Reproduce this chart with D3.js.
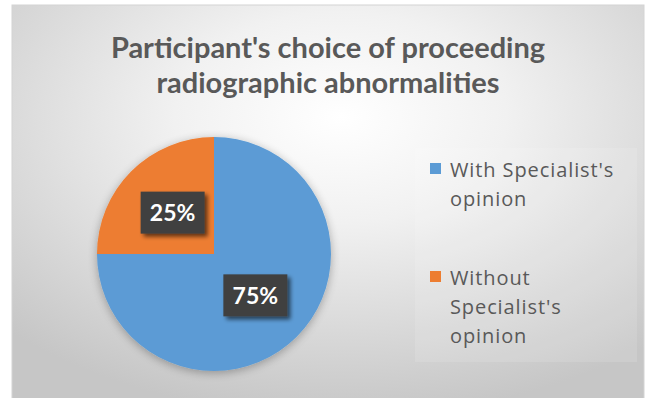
<!DOCTYPE html>
<html>
<head>
<meta charset="utf-8">
<script src="https://cdn.jsdelivr.net/npm/d3@7"></script>
<style>
  html, body { margin: 0; padding: 0; background: #ffffff; }
  svg { display: block; }
</style>
</head>
<body>
<div id="chart"></div>
<script>
// chart data
var titleLines = ["Participant's choice of proceeding", "radiographic abnormalities"];
var categories = ["With Specialist's opinion", "Without Specialist's opinion"];
var legendLines = [["With Specialist's", "opinion"], ["Without", "Specialist's", "opinion"]];
var values = [75, 25];
var colors = ["#5b9bd5", "#ed7d31"];

const width = 651, height = 398;
const center = { x: 214, y: 254 };
const radius = 117;

var svg = d3.select("#chart").append("svg")
    .attr("width", width)
    .attr("height", height);

var defs = svg.append("defs");

var grad = defs.append("radialGradient")
    .attr("id", "bg")
    .attr("cx", "52%").attr("cy", "28%")
    .attr("r", "75%");
grad.append("stop").attr("offset", "0%").attr("stop-color", "#ffffff");
grad.append("stop").attr("offset", "35%").attr("stop-color", "#f1f1f1");
grad.append("stop").attr("offset", "100%").attr("stop-color", "#c6c6c6");

var pieShadow = defs.append("filter").attr("id", "pieShadow")
    .attr("x", "-20%").attr("y", "-20%").attr("width", "140%").attr("height", "140%");
pieShadow.append("feGaussianBlur").attr("in", "SourceAlpha").attr("stdDeviation", 5).attr("result", "b");
pieShadow.append("feOffset").attr("in", "b").attr("dx", 0).attr("dy", 2).attr("result", "o");
pieShadow.append("feComponentTransfer").attr("in", "o").attr("result", "s")
    .append("feFuncA").attr("type", "linear").attr("slope", 0.3);
var m1 = pieShadow.append("feMerge");
m1.append("feMergeNode").attr("in", "s");
m1.append("feMergeNode").attr("in", "SourceGraphic");

var boxShadow = defs.append("filter").attr("id", "boxShadow")
    .attr("x", "-30%").attr("y", "-30%").attr("width", "160%").attr("height", "160%");
boxShadow.append("feGaussianBlur").attr("in", "SourceAlpha").attr("stdDeviation", 2).attr("result", "b");
boxShadow.append("feOffset").attr("in", "b").attr("dx", 3).attr("dy", 3).attr("result", "o");
boxShadow.append("feComponentTransfer").attr("in", "o").attr("result", "s")
    .append("feFuncA").attr("type", "linear").attr("slope", 0.6);
var m2 = boxShadow.append("feMerge");
m2.append("feMergeNode").attr("in", "s");
m2.append("feMergeNode").attr("in", "SourceGraphic");

// chart area background
svg.append("rect")
    .attr("x", 12).attr("y", 5)
    .attr("width", 632).attr("height", 400)
    .attr("fill", "url(#bg)")
    .attr("stroke", "#d4d4d4")
    .attr("stroke-width", 1);

// title
svg.append("text")
    .attr("x", 328)
    .attr("text-anchor", "middle")
    .style("font-family", "Lato, 'Open Sans', sans-serif")
    .style("font-weight", "bold")
    .style("font-size", "29px")
    .attr("fill", "#595959")
    .selectAll("tspan")
    .data(titleLines)
    .enter()
    .append("tspan")
    .attr("x", 328)
    .attr("y", (d, i) => 58 + i * 35)
    .text(d => d);

// pie
var pie = d3.pie().sort(null).value(d => d);
var arc = d3.arc().innerRadius(0).outerRadius(radius);
var labelArc = d3.arc().innerRadius(radius * 0.5).outerRadius(radius * 0.5);
var fmt = d3.format(".0%");
var total = d3.sum(values);

var g = svg.append("g")
    .attr("transform", "translate(" + center.x + "," + center.y + ")");

g.append("g")
    .attr("filter", "url(#pieShadow)")
    .selectAll("path")
    .data(pie(values))
    .enter()
    .append("path")
    .attr("d", arc)
    .attr("fill", (d, i) => colors[i]);

var labels = g.selectAll(".lbl")
    .data(pie(values))
    .enter()
    .append("g")
    .attr("class", "lbl")
    .attr("transform", d => "translate(" + labelArc.centroid(d) + ")");

labels.append("rect")
    .attr("x", -32).attr("y", -21)
    .attr("width", 64).attr("height", 42)
    .attr("fill", "#404040")
    .attr("filter", "url(#boxShadow)");

labels.append("text")
    .attr("text-anchor", "middle")
    .attr("dy", "0.36em")
    .style("font-family", "Lato, 'Open Sans', sans-serif")
    .style("font-weight", "bold")
    .style("font-size", "23px")
    .attr("fill", "#ffffff")
    .text(d => fmt(d.data / total));

// legend
svg.append("rect")
    .attr("x", 415).attr("y", 148)
    .attr("width", 222).attr("height", 214)
    .attr("fill", "#ffffff")
    .attr("fill-opacity", 0.12);

var legendTop = [177, 285];
var legend = svg.selectAll(".leg")
    .data(categories)
    .enter()
    .append("g")
    .attr("class", "leg");

legend.append("rect")
    .attr("x", 430)
    .attr("y", (d, i) => legendTop[i] - 14)
    .attr("width", 11).attr("height", 11)
    .attr("fill", (d, i) => colors[i]);

legend.append("text")
    .style("font-family", "'Open Sans', sans-serif")
    .style("font-size", "20px")
    .style("letter-spacing", "0.9px")
    .attr("fill", "#595959")
    .each(function (d, i) {
        d3.select(this).selectAll("tspan")
            .data(legendLines[i])
            .enter()
            .append("tspan")
            .attr("x", 450)
            .attr("y", (t, j) => legendTop[i] + j * 29)
            .text(t => t);
    });
</script>
</body>
</html>
